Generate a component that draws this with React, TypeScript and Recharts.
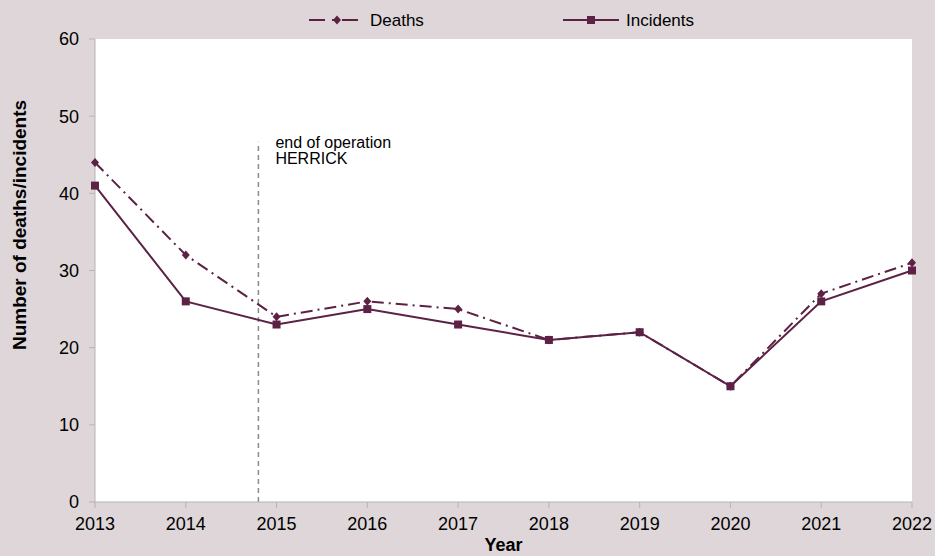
import React from "react"
import { LineChart, Line, XAxis, YAxis, CartesianGrid, ReferenceLine } from "recharts"

const years = [2013, 2014, 2015, 2016, 2017, 2018, 2019, 2020, 2021, 2022]
const deaths = [44, 32, 24, 26, 25, 21, 22, 15, 27, 31]
const incidents = [41, 26, 23, 25, 23, 21, 22, 15, 26, 30]
const yTicks = [0, 10, 20, 30, 40, 50, 60]
const herrickEnd = 2014.8

const data = years.map((year, i) => ({ year, deaths: deaths[i], incidents: incidents[i] }))

const LINE = "#5c2145"
const FONT = "'Liberation Sans', Arial, sans-serif"

const Diamond = (props: any) => {
  const { cx, cy } = props
  if (cx == null || cy == null) return null
  return <path d={`M${cx},${cy - 4.5}L${cx + 4},${cy}L${cx},${cy + 4.5}L${cx - 4},${cy}Z`} fill={LINE} />
}

const Square = (props: any) => {
  const { cx, cy } = props
  if (cx == null || cy == null) return null
  return <rect x={cx - 4} y={cy - 4} width={8} height={8} fill={LINE} />
}

// axis title sits a bit above the plot centre in the original
const YTitle = () => (
  <text x={19} y={225} transform="rotate(-90, 19, 225)" textAnchor="middle" dominantBaseline="central"
    fontSize={19} fontWeight="bold" fill="#000" fontFamily={FONT}>
    Number of deaths/incidents
  </text>
)

const XTitle = (props: any) => {
  const vb = props.viewBox || { x: 95, width: 817 }
  return (
    <text x={vb.x + vb.width / 2} y={551} textAnchor="middle" fontSize={18} fontWeight="bold" fill="#000" fontFamily={FONT}>
      Year
    </text>
  )
}

const HerrickLabel = (props: any) => {
  const vb = props.viewBox || { x: 258 }
  const x = vb.x + 17
  return (
    <text x={x} y={148} fontSize={16} fill="#000" fontFamily={FONT}>
      <tspan x={x} dy={0}>end of operation</tspan>
      <tspan x={x} dy={16}>HERRICK</tspan>
    </text>
  )
}

function Legend() {
  return (
    <svg width={935} height={40} style={{ position: "absolute", left: 0, top: 0 }}>
      <line x1={309} y1={20} x2={358} y2={20} stroke={LINE} strokeWidth={2} strokeDasharray="16 7 3 7 30" />
      <path d="M337,15.5L341,20L337,24.5L333,20Z" fill={LINE} />
      <text x={370} y={26} fontSize={17} fill="#000" fontFamily={FONT}>Deaths</text>
      <line x1={563} y1={20} x2={619} y2={20} stroke={LINE} strokeWidth={2} />
      <rect x={587} y={16} width={8} height={8} fill={LINE} />
      <text x={626} y={26} fontSize={17} fill="#000" fontFamily={FONT}>Incidents</text>
    </svg>
  )
}

export default function App() {
  return (
    <div style={{ position: "absolute", left: 0, top: 0, width: 935, height: 556, background: "#ded6d8" }}>
      <LineChart width={935} height={556} data={data} margin={{ top: 39, right: 23, left: 0, bottom: 0 }}>
        <CartesianGrid horizontal={false} vertical={false} fill="#ffffff" />
        <XAxis
          dataKey="year"
          type="number"
          domain={[2013, 2022]}
          ticks={years}
          height={54}
          tickSize={6}
          tickMargin={9}
          stroke="#b5b5b5"
          tick={{ fill: "#000", fontSize: 18, fontFamily: FONT }}
          label={<XTitle />}
        />
        <YAxis
          type="number"
          domain={[0, 60]}
          ticks={yTicks}
          width={95}
          tickSize={6}
          tickMargin={10}
          stroke="#b5b5b5"
          tick={{ fill: "#000", fontSize: 18, fontFamily: FONT }}
          label={<YTitle />}
        />
        <ReferenceLine
          segment={[{ x: herrickEnd, y: 0 }, { x: herrickEnd, y: 46.7 }]}
          stroke="#8a8a8a"
          strokeWidth={1.5}
          strokeDasharray="5 4"
          label={<HerrickLabel />}
        />
        <Line dataKey="incidents" stroke={LINE} strokeWidth={2} dot={<Square />} activeDot={false} isAnimationActive={false} />
        <Line dataKey="deaths" stroke={LINE} strokeWidth={2} strokeDasharray="12 5 2 5" dot={<Diamond />} activeDot={false} isAnimationActive={false} />
      </LineChart>
      <Legend />
    </div>
  )
}
